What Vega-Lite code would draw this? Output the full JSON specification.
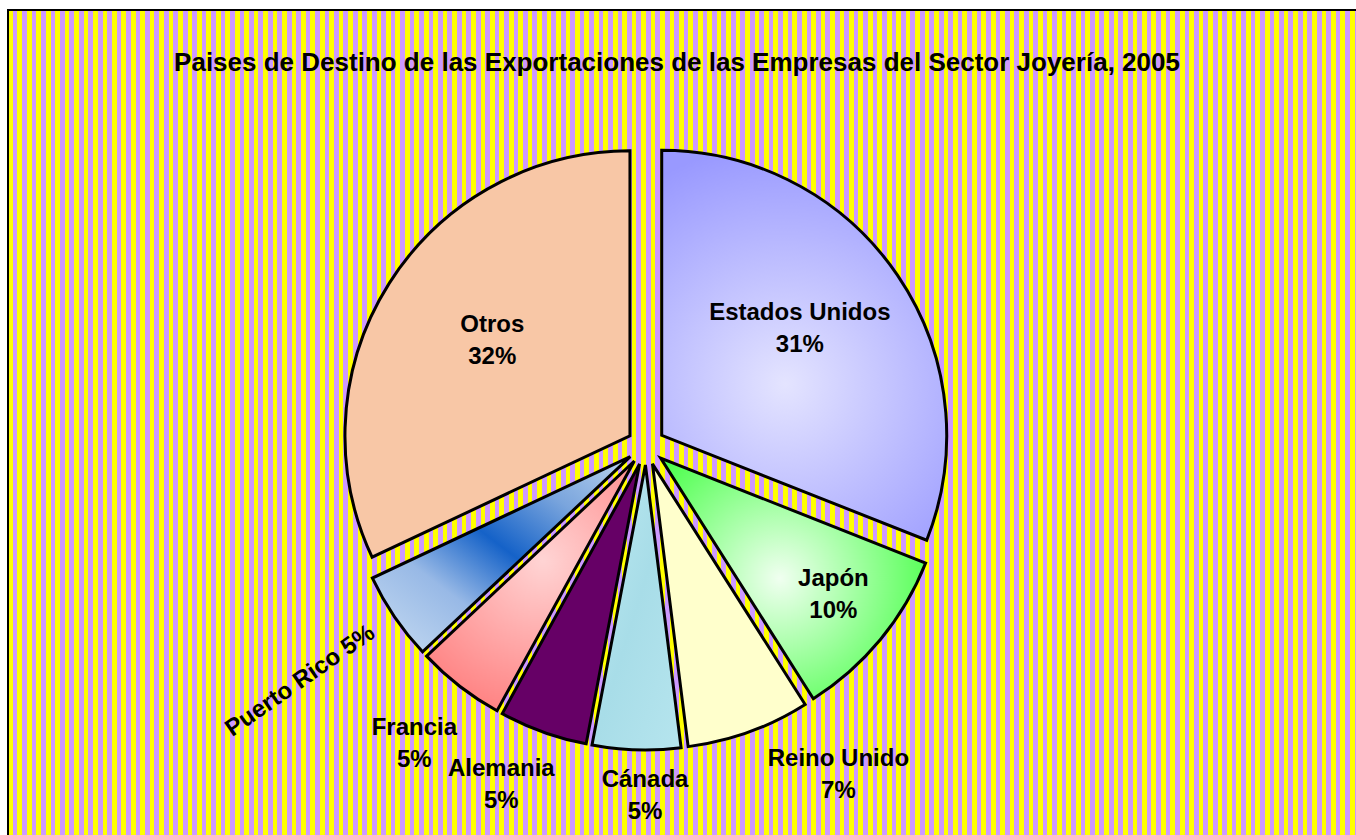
{
"$schema": "https://vega.github.io/schema/vega-lite/v6.json",
"width": 1350,
"height": 827,
"autosize": {"type": "none"},
"padding": {"left": 8, "top": 10, "right": 0, "bottom": 0},
"background": "white",
"title": {"text": "Paises de Destino de las Exportaciones de las Empresas del Sector Joyería, 2005", "font": "Liberation Sans", "fontSize": 26, "fontWeight": "bold", "color": "black", "anchor": "middle", "frame": "group", "offset": -87, "baseline": "alphabetic", "dx": -6},
"view": {"stroke": "black", "strokeWidth": 2, "fill": {"gradient": "linear", "x1": 0, "y1": 0, "x2": 1, "y2": 0, "stops": [
{"offset":0,"color":"#ff0"},
{"offset":0.0035,"color":"#ff0"},{"offset":0.0035,"color":"#c9f"},
{"offset":0.007,"color":"#c9f"},{"offset":0.007,"color":"#ff0"},
{"offset":0.0105,"color":"#ff0"},{"offset":0.0105,"color":"#c9f"},
{"offset":0.014,"color":"#c9f"},{"offset":0.014,"color":"#ff0"},
{"offset":0.0175,"color":"#ff0"},{"offset":0.0175,"color":"#c9f"},
{"offset":0.021,"color":"#c9f"},{"offset":0.021,"color":"#ff0"},
{"offset":0.0245,"color":"#ff0"},{"offset":0.0245,"color":"#c9f"},
{"offset":0.028,"color":"#c9f"},{"offset":0.028,"color":"#ff0"},
{"offset":0.0315,"color":"#ff0"},{"offset":0.0315,"color":"#c9f"},
{"offset":0.035,"color":"#c9f"},{"offset":0.035,"color":"#ff0"},
{"offset":0.0385,"color":"#ff0"},{"offset":0.0385,"color":"#c9f"},
{"offset":0.042,"color":"#c9f"},{"offset":0.042,"color":"#ff0"},
{"offset":0.0455,"color":"#ff0"},{"offset":0.0455,"color":"#c9f"},
{"offset":0.049,"color":"#c9f"},{"offset":0.049,"color":"#ff0"},
{"offset":0.0525,"color":"#ff0"},{"offset":0.0525,"color":"#c9f"},
{"offset":0.056,"color":"#c9f"},{"offset":0.056,"color":"#ff0"},
{"offset":0.0595,"color":"#ff0"},{"offset":0.0595,"color":"#c9f"},
{"offset":0.063,"color":"#c9f"},{"offset":0.063,"color":"#ff0"},
{"offset":0.0665,"color":"#ff0"},{"offset":0.0665,"color":"#c9f"},
{"offset":0.07,"color":"#c9f"},{"offset":0.07,"color":"#ff0"},
{"offset":0.0735,"color":"#ff0"},{"offset":0.0735,"color":"#c9f"},
{"offset":0.077,"color":"#c9f"},{"offset":0.077,"color":"#ff0"},
{"offset":0.0805,"color":"#ff0"},{"offset":0.0805,"color":"#c9f"},
{"offset":0.084,"color":"#c9f"},{"offset":0.084,"color":"#ff0"},
{"offset":0.0875,"color":"#ff0"},{"offset":0.0875,"color":"#c9f"},
{"offset":0.091,"color":"#c9f"},{"offset":0.091,"color":"#ff0"},
{"offset":0.0945,"color":"#ff0"},{"offset":0.0945,"color":"#c9f"},
{"offset":0.098,"color":"#c9f"},{"offset":0.098,"color":"#ff0"},
{"offset":0.1015,"color":"#ff0"},{"offset":0.1015,"color":"#c9f"},
{"offset":0.105,"color":"#c9f"},{"offset":0.105,"color":"#ff0"},
{"offset":0.1085,"color":"#ff0"},{"offset":0.1085,"color":"#c9f"},
{"offset":0.112,"color":"#c9f"},{"offset":0.112,"color":"#ff0"},
{"offset":0.1155,"color":"#ff0"},{"offset":0.1155,"color":"#c9f"},
{"offset":0.119,"color":"#c9f"},{"offset":0.119,"color":"#ff0"},
{"offset":0.1225,"color":"#ff0"},{"offset":0.1225,"color":"#c9f"},
{"offset":0.126,"color":"#c9f"},{"offset":0.126,"color":"#ff0"},
{"offset":0.1295,"color":"#ff0"},{"offset":0.1295,"color":"#c9f"},
{"offset":0.133,"color":"#c9f"},{"offset":0.133,"color":"#ff0"},
{"offset":0.1365,"color":"#ff0"},{"offset":0.1365,"color":"#c9f"},
{"offset":0.14,"color":"#c9f"},{"offset":0.14,"color":"#ff0"},
{"offset":0.1435,"color":"#ff0"},{"offset":0.1435,"color":"#c9f"},
{"offset":0.147,"color":"#c9f"},{"offset":0.147,"color":"#ff0"},
{"offset":0.1505,"color":"#ff0"},{"offset":0.1505,"color":"#c9f"},
{"offset":0.154,"color":"#c9f"},{"offset":0.154,"color":"#ff0"},
{"offset":0.1575,"color":"#ff0"},{"offset":0.1575,"color":"#c9f"},
{"offset":0.161,"color":"#c9f"},{"offset":0.161,"color":"#ff0"},
{"offset":0.1645,"color":"#ff0"},{"offset":0.1645,"color":"#c9f"},
{"offset":0.168,"color":"#c9f"},{"offset":0.168,"color":"#ff0"},
{"offset":0.1715,"color":"#ff0"},{"offset":0.1715,"color":"#c9f"},
{"offset":0.175,"color":"#c9f"},{"offset":0.175,"color":"#ff0"},
{"offset":0.1785,"color":"#ff0"},{"offset":0.1785,"color":"#c9f"},
{"offset":0.182,"color":"#c9f"},{"offset":0.182,"color":"#ff0"},
{"offset":0.1855,"color":"#ff0"},{"offset":0.1855,"color":"#c9f"},
{"offset":0.189,"color":"#c9f"},{"offset":0.189,"color":"#ff0"},
{"offset":0.1925,"color":"#ff0"},{"offset":0.1925,"color":"#c9f"},
{"offset":0.196,"color":"#c9f"},{"offset":0.196,"color":"#ff0"},
{"offset":0.1995,"color":"#ff0"},{"offset":0.1995,"color":"#c9f"},
{"offset":0.203,"color":"#c9f"},{"offset":0.203,"color":"#ff0"},
{"offset":0.2065,"color":"#ff0"},{"offset":0.2065,"color":"#c9f"},
{"offset":0.21,"color":"#c9f"},{"offset":0.21,"color":"#ff0"},
{"offset":0.2135,"color":"#ff0"},{"offset":0.2135,"color":"#c9f"},
{"offset":0.217,"color":"#c9f"},{"offset":0.217,"color":"#ff0"},
{"offset":0.2205,"color":"#ff0"},{"offset":0.2205,"color":"#c9f"},
{"offset":0.224,"color":"#c9f"},{"offset":0.224,"color":"#ff0"},
{"offset":0.2275,"color":"#ff0"},{"offset":0.2275,"color":"#c9f"},
{"offset":0.231,"color":"#c9f"},{"offset":0.231,"color":"#ff0"},
{"offset":0.2345,"color":"#ff0"},{"offset":0.2345,"color":"#c9f"},
{"offset":0.238,"color":"#c9f"},{"offset":0.238,"color":"#ff0"},
{"offset":0.2415,"color":"#ff0"},{"offset":0.2415,"color":"#c9f"},
{"offset":0.245,"color":"#c9f"},{"offset":0.245,"color":"#ff0"},
{"offset":0.2485,"color":"#ff0"},{"offset":0.2485,"color":"#c9f"},
{"offset":0.252,"color":"#c9f"},{"offset":0.252,"color":"#ff0"},
{"offset":0.2555,"color":"#ff0"},{"offset":0.2555,"color":"#c9f"},
{"offset":0.259,"color":"#c9f"},{"offset":0.259,"color":"#ff0"},
{"offset":0.2625,"color":"#ff0"},{"offset":0.2625,"color":"#c9f"},
{"offset":0.266,"color":"#c9f"},{"offset":0.266,"color":"#ff0"},
{"offset":0.2695,"color":"#ff0"},{"offset":0.2695,"color":"#c9f"},
{"offset":0.273,"color":"#c9f"},{"offset":0.273,"color":"#ff0"},
{"offset":0.2765,"color":"#ff0"},{"offset":0.2765,"color":"#c9f"},
{"offset":0.28,"color":"#c9f"},{"offset":0.28,"color":"#ff0"},
{"offset":0.2835,"color":"#ff0"},{"offset":0.2835,"color":"#c9f"},
{"offset":0.287,"color":"#c9f"},{"offset":0.287,"color":"#ff0"},
{"offset":0.2905,"color":"#ff0"},{"offset":0.2905,"color":"#c9f"},
{"offset":0.294,"color":"#c9f"},{"offset":0.294,"color":"#ff0"},
{"offset":0.2975,"color":"#ff0"},{"offset":0.2975,"color":"#c9f"},
{"offset":0.301,"color":"#c9f"},{"offset":0.301,"color":"#ff0"},
{"offset":0.3045,"color":"#ff0"},{"offset":0.3045,"color":"#c9f"},
{"offset":0.308,"color":"#c9f"},{"offset":0.308,"color":"#ff0"},
{"offset":0.3115,"color":"#ff0"},{"offset":0.3115,"color":"#c9f"},
{"offset":0.315,"color":"#c9f"},{"offset":0.315,"color":"#ff0"},
{"offset":0.3185,"color":"#ff0"},{"offset":0.3185,"color":"#c9f"},
{"offset":0.322,"color":"#c9f"},{"offset":0.322,"color":"#ff0"},
{"offset":0.3255,"color":"#ff0"},{"offset":0.3255,"color":"#c9f"},
{"offset":0.329,"color":"#c9f"},{"offset":0.329,"color":"#ff0"},
{"offset":0.3325,"color":"#ff0"},{"offset":0.3325,"color":"#c9f"},
{"offset":0.336,"color":"#c9f"},{"offset":0.336,"color":"#ff0"},
{"offset":0.3395,"color":"#ff0"},{"offset":0.3395,"color":"#c9f"},
{"offset":0.343,"color":"#c9f"},{"offset":0.343,"color":"#ff0"},
{"offset":0.3465,"color":"#ff0"},{"offset":0.3465,"color":"#c9f"},
{"offset":0.35,"color":"#c9f"},{"offset":0.35,"color":"#ff0"},
{"offset":0.3535,"color":"#ff0"},{"offset":0.3535,"color":"#c9f"},
{"offset":0.357,"color":"#c9f"},{"offset":0.357,"color":"#ff0"},
{"offset":0.3605,"color":"#ff0"},{"offset":0.3605,"color":"#c9f"},
{"offset":0.364,"color":"#c9f"},{"offset":0.364,"color":"#ff0"},
{"offset":0.3675,"color":"#ff0"},{"offset":0.3675,"color":"#c9f"},
{"offset":0.371,"color":"#c9f"},{"offset":0.371,"color":"#ff0"},
{"offset":0.3745,"color":"#ff0"},{"offset":0.3745,"color":"#c9f"},
{"offset":0.378,"color":"#c9f"},{"offset":0.378,"color":"#ff0"},
{"offset":0.3815,"color":"#ff0"},{"offset":0.3815,"color":"#c9f"},
{"offset":0.385,"color":"#c9f"},{"offset":0.385,"color":"#ff0"},
{"offset":0.3885,"color":"#ff0"},{"offset":0.3885,"color":"#c9f"},
{"offset":0.392,"color":"#c9f"},{"offset":0.392,"color":"#ff0"},
{"offset":0.3955,"color":"#ff0"},{"offset":0.3955,"color":"#c9f"},
{"offset":0.399,"color":"#c9f"},{"offset":0.399,"color":"#ff0"},
{"offset":0.4025,"color":"#ff0"},{"offset":0.4025,"color":"#c9f"},
{"offset":0.406,"color":"#c9f"},{"offset":0.406,"color":"#ff0"},
{"offset":0.4095,"color":"#ff0"},{"offset":0.4095,"color":"#c9f"},
{"offset":0.413,"color":"#c9f"},{"offset":0.413,"color":"#ff0"},
{"offset":0.4165,"color":"#ff0"},{"offset":0.4165,"color":"#c9f"},
{"offset":0.42,"color":"#c9f"},{"offset":0.42,"color":"#ff0"},
{"offset":0.4235,"color":"#ff0"},{"offset":0.4235,"color":"#c9f"},
{"offset":0.427,"color":"#c9f"},{"offset":0.427,"color":"#ff0"},
{"offset":0.4305,"color":"#ff0"},{"offset":0.4305,"color":"#c9f"},
{"offset":0.434,"color":"#c9f"},{"offset":0.434,"color":"#ff0"},
{"offset":0.4375,"color":"#ff0"},{"offset":0.4375,"color":"#c9f"},
{"offset":0.441,"color":"#c9f"},{"offset":0.441,"color":"#ff0"},
{"offset":0.4445,"color":"#ff0"},{"offset":0.4445,"color":"#c9f"},
{"offset":0.448,"color":"#c9f"},{"offset":0.448,"color":"#ff0"},
{"offset":0.4515,"color":"#ff0"},{"offset":0.4515,"color":"#c9f"},
{"offset":0.455,"color":"#c9f"},{"offset":0.455,"color":"#ff0"},
{"offset":0.4585,"color":"#ff0"},{"offset":0.4585,"color":"#c9f"},
{"offset":0.462,"color":"#c9f"},{"offset":0.462,"color":"#ff0"},
{"offset":0.4655,"color":"#ff0"},{"offset":0.4655,"color":"#c9f"},
{"offset":0.469,"color":"#c9f"},{"offset":0.469,"color":"#ff0"},
{"offset":0.4725,"color":"#ff0"},{"offset":0.4725,"color":"#c9f"},
{"offset":0.476,"color":"#c9f"},{"offset":0.476,"color":"#ff0"},
{"offset":0.4795,"color":"#ff0"},{"offset":0.4795,"color":"#c9f"},
{"offset":0.483,"color":"#c9f"},{"offset":0.483,"color":"#ff0"},
{"offset":0.4865,"color":"#ff0"},{"offset":0.4865,"color":"#c9f"},
{"offset":0.49,"color":"#c9f"},{"offset":0.49,"color":"#ff0"},
{"offset":0.4935,"color":"#ff0"},{"offset":0.4935,"color":"#c9f"},
{"offset":0.497,"color":"#c9f"},{"offset":0.497,"color":"#ff0"},
{"offset":0.5005,"color":"#ff0"},{"offset":0.5005,"color":"#c9f"},
{"offset":0.504,"color":"#c9f"},{"offset":0.504,"color":"#ff0"},
{"offset":0.5075,"color":"#ff0"},{"offset":0.5075,"color":"#c9f"},
{"offset":0.511,"color":"#c9f"},{"offset":0.511,"color":"#ff0"},
{"offset":0.5145,"color":"#ff0"},{"offset":0.5145,"color":"#c9f"},
{"offset":0.518,"color":"#c9f"},{"offset":0.518,"color":"#ff0"},
{"offset":0.5215,"color":"#ff0"},{"offset":0.5215,"color":"#c9f"},
{"offset":0.525,"color":"#c9f"},{"offset":0.525,"color":"#ff0"},
{"offset":0.5285,"color":"#ff0"},{"offset":0.5285,"color":"#c9f"},
{"offset":0.532,"color":"#c9f"},{"offset":0.532,"color":"#ff0"},
{"offset":0.5355,"color":"#ff0"},{"offset":0.5355,"color":"#c9f"},
{"offset":0.539,"color":"#c9f"},{"offset":0.539,"color":"#ff0"},
{"offset":0.5425,"color":"#ff0"},{"offset":0.5425,"color":"#c9f"},
{"offset":0.546,"color":"#c9f"},{"offset":0.546,"color":"#ff0"},
{"offset":0.5495,"color":"#ff0"},{"offset":0.5495,"color":"#c9f"},
{"offset":0.553,"color":"#c9f"},{"offset":0.553,"color":"#ff0"},
{"offset":0.5565,"color":"#ff0"},{"offset":0.5565,"color":"#c9f"},
{"offset":0.56,"color":"#c9f"},{"offset":0.56,"color":"#ff0"},
{"offset":0.5635,"color":"#ff0"},{"offset":0.5635,"color":"#c9f"},
{"offset":0.567,"color":"#c9f"},{"offset":0.567,"color":"#ff0"},
{"offset":0.5705,"color":"#ff0"},{"offset":0.5705,"color":"#c9f"},
{"offset":0.574,"color":"#c9f"},{"offset":0.574,"color":"#ff0"},
{"offset":0.5775,"color":"#ff0"},{"offset":0.5775,"color":"#c9f"},
{"offset":0.581,"color":"#c9f"},{"offset":0.581,"color":"#ff0"},
{"offset":0.5845,"color":"#ff0"},{"offset":0.5845,"color":"#c9f"},
{"offset":0.588,"color":"#c9f"},{"offset":0.588,"color":"#ff0"},
{"offset":0.5915,"color":"#ff0"},{"offset":0.5915,"color":"#c9f"},
{"offset":0.595,"color":"#c9f"},{"offset":0.595,"color":"#ff0"},
{"offset":0.5985,"color":"#ff0"},{"offset":0.5985,"color":"#c9f"},
{"offset":0.602,"color":"#c9f"},{"offset":0.602,"color":"#ff0"},
{"offset":0.6055,"color":"#ff0"},{"offset":0.6055,"color":"#c9f"},
{"offset":0.609,"color":"#c9f"},{"offset":0.609,"color":"#ff0"},
{"offset":0.6125,"color":"#ff0"},{"offset":0.6125,"color":"#c9f"},
{"offset":0.616,"color":"#c9f"},{"offset":0.616,"color":"#ff0"},
{"offset":0.6195,"color":"#ff0"},{"offset":0.6195,"color":"#c9f"},
{"offset":0.623,"color":"#c9f"},{"offset":0.623,"color":"#ff0"},
{"offset":0.6265,"color":"#ff0"},{"offset":0.6265,"color":"#c9f"},
{"offset":0.63,"color":"#c9f"},{"offset":0.63,"color":"#ff0"},
{"offset":0.6335,"color":"#ff0"},{"offset":0.6335,"color":"#c9f"},
{"offset":0.637,"color":"#c9f"},{"offset":0.637,"color":"#ff0"},
{"offset":0.6405,"color":"#ff0"},{"offset":0.6405,"color":"#c9f"},
{"offset":0.644,"color":"#c9f"},{"offset":0.644,"color":"#ff0"},
{"offset":0.6475,"color":"#ff0"},{"offset":0.6475,"color":"#c9f"},
{"offset":0.651,"color":"#c9f"},{"offset":0.651,"color":"#ff0"},
{"offset":0.6545,"color":"#ff0"},{"offset":0.6545,"color":"#c9f"},
{"offset":0.658,"color":"#c9f"},{"offset":0.658,"color":"#ff0"},
{"offset":0.6615,"color":"#ff0"},{"offset":0.6615,"color":"#c9f"},
{"offset":0.665,"color":"#c9f"},{"offset":0.665,"color":"#ff0"},
{"offset":0.6685,"color":"#ff0"},{"offset":0.6685,"color":"#c9f"},
{"offset":0.672,"color":"#c9f"},{"offset":0.672,"color":"#ff0"},
{"offset":0.6755,"color":"#ff0"},{"offset":0.6755,"color":"#c9f"},
{"offset":0.679,"color":"#c9f"},{"offset":0.679,"color":"#ff0"},
{"offset":0.6825,"color":"#ff0"},{"offset":0.6825,"color":"#c9f"},
{"offset":0.686,"color":"#c9f"},{"offset":0.686,"color":"#ff0"},
{"offset":0.6895,"color":"#ff0"},{"offset":0.6895,"color":"#c9f"},
{"offset":0.693,"color":"#c9f"},{"offset":0.693,"color":"#ff0"},
{"offset":0.6965,"color":"#ff0"},{"offset":0.6965,"color":"#c9f"},
{"offset":0.7,"color":"#c9f"},{"offset":0.7,"color":"#ff0"},
{"offset":0.7035,"color":"#ff0"},{"offset":0.7035,"color":"#c9f"},
{"offset":0.707,"color":"#c9f"},{"offset":0.707,"color":"#ff0"},
{"offset":0.7105,"color":"#ff0"},{"offset":0.7105,"color":"#c9f"},
{"offset":0.714,"color":"#c9f"},{"offset":0.714,"color":"#ff0"},
{"offset":0.7175,"color":"#ff0"},{"offset":0.7175,"color":"#c9f"},
{"offset":0.721,"color":"#c9f"},{"offset":0.721,"color":"#ff0"},
{"offset":0.7245,"color":"#ff0"},{"offset":0.7245,"color":"#c9f"},
{"offset":0.728,"color":"#c9f"},{"offset":0.728,"color":"#ff0"},
{"offset":0.7315,"color":"#ff0"},{"offset":0.7315,"color":"#c9f"},
{"offset":0.735,"color":"#c9f"},{"offset":0.735,"color":"#ff0"},
{"offset":0.7385,"color":"#ff0"},{"offset":0.7385,"color":"#c9f"},
{"offset":0.742,"color":"#c9f"},{"offset":0.742,"color":"#ff0"},
{"offset":0.7455,"color":"#ff0"},{"offset":0.7455,"color":"#c9f"},
{"offset":0.749,"color":"#c9f"},{"offset":0.749,"color":"#ff0"},
{"offset":0.7525,"color":"#ff0"},{"offset":0.7525,"color":"#c9f"},
{"offset":0.756,"color":"#c9f"},{"offset":0.756,"color":"#ff0"},
{"offset":0.7595,"color":"#ff0"},{"offset":0.7595,"color":"#c9f"},
{"offset":0.763,"color":"#c9f"},{"offset":0.763,"color":"#ff0"},
{"offset":0.7665,"color":"#ff0"},{"offset":0.7665,"color":"#c9f"},
{"offset":0.77,"color":"#c9f"},{"offset":0.77,"color":"#ff0"},
{"offset":0.7735,"color":"#ff0"},{"offset":0.7735,"color":"#c9f"},
{"offset":0.777,"color":"#c9f"},{"offset":0.777,"color":"#ff0"},
{"offset":0.7805,"color":"#ff0"},{"offset":0.7805,"color":"#c9f"},
{"offset":0.784,"color":"#c9f"},{"offset":0.784,"color":"#ff0"},
{"offset":0.7875,"color":"#ff0"},{"offset":0.7875,"color":"#c9f"},
{"offset":0.791,"color":"#c9f"},{"offset":0.791,"color":"#ff0"},
{"offset":0.7945,"color":"#ff0"},{"offset":0.7945,"color":"#c9f"},
{"offset":0.798,"color":"#c9f"},{"offset":0.798,"color":"#ff0"},
{"offset":0.8015,"color":"#ff0"},{"offset":0.8015,"color":"#c9f"},
{"offset":0.805,"color":"#c9f"},{"offset":0.805,"color":"#ff0"},
{"offset":0.8085,"color":"#ff0"},{"offset":0.8085,"color":"#c9f"},
{"offset":0.812,"color":"#c9f"},{"offset":0.812,"color":"#ff0"},
{"offset":0.8155,"color":"#ff0"},{"offset":0.8155,"color":"#c9f"},
{"offset":0.819,"color":"#c9f"},{"offset":0.819,"color":"#ff0"},
{"offset":0.8225,"color":"#ff0"},{"offset":0.8225,"color":"#c9f"},
{"offset":0.826,"color":"#c9f"},{"offset":0.826,"color":"#ff0"},
{"offset":0.8295,"color":"#ff0"},{"offset":0.8295,"color":"#c9f"},
{"offset":0.833,"color":"#c9f"},{"offset":0.833,"color":"#ff0"},
{"offset":0.8365,"color":"#ff0"},{"offset":0.8365,"color":"#c9f"},
{"offset":0.84,"color":"#c9f"},{"offset":0.84,"color":"#ff0"},
{"offset":0.8435,"color":"#ff0"},{"offset":0.8435,"color":"#c9f"},
{"offset":0.847,"color":"#c9f"},{"offset":0.847,"color":"#ff0"},
{"offset":0.8505,"color":"#ff0"},{"offset":0.8505,"color":"#c9f"},
{"offset":0.854,"color":"#c9f"},{"offset":0.854,"color":"#ff0"},
{"offset":0.8575,"color":"#ff0"},{"offset":0.8575,"color":"#c9f"},
{"offset":0.861,"color":"#c9f"},{"offset":0.861,"color":"#ff0"},
{"offset":0.8645,"color":"#ff0"},{"offset":0.8645,"color":"#c9f"},
{"offset":0.868,"color":"#c9f"},{"offset":0.868,"color":"#ff0"},
{"offset":0.8715,"color":"#ff0"},{"offset":0.8715,"color":"#c9f"},
{"offset":0.875,"color":"#c9f"},{"offset":0.875,"color":"#ff0"},
{"offset":0.8785,"color":"#ff0"},{"offset":0.8785,"color":"#c9f"},
{"offset":0.882,"color":"#c9f"},{"offset":0.882,"color":"#ff0"},
{"offset":0.8855,"color":"#ff0"},{"offset":0.8855,"color":"#c9f"},
{"offset":0.889,"color":"#c9f"},{"offset":0.889,"color":"#ff0"},
{"offset":0.8925,"color":"#ff0"},{"offset":0.8925,"color":"#c9f"},
{"offset":0.896,"color":"#c9f"},{"offset":0.896,"color":"#ff0"},
{"offset":0.8995,"color":"#ff0"},{"offset":0.8995,"color":"#c9f"},
{"offset":0.903,"color":"#c9f"},{"offset":0.903,"color":"#ff0"},
{"offset":0.9065,"color":"#ff0"},{"offset":0.9065,"color":"#c9f"},
{"offset":0.91,"color":"#c9f"},{"offset":0.91,"color":"#ff0"},
{"offset":0.9135,"color":"#ff0"},{"offset":0.9135,"color":"#c9f"},
{"offset":0.917,"color":"#c9f"},{"offset":0.917,"color":"#ff0"},
{"offset":0.9205,"color":"#ff0"},{"offset":0.9205,"color":"#c9f"},
{"offset":0.924,"color":"#c9f"},{"offset":0.924,"color":"#ff0"},
{"offset":0.9275,"color":"#ff0"},{"offset":0.9275,"color":"#c9f"},
{"offset":0.931,"color":"#c9f"},{"offset":0.931,"color":"#ff0"},
{"offset":0.9345,"color":"#ff0"},{"offset":0.9345,"color":"#c9f"},
{"offset":0.938,"color":"#c9f"},{"offset":0.938,"color":"#ff0"},
{"offset":0.9415,"color":"#ff0"},{"offset":0.9415,"color":"#c9f"},
{"offset":0.945,"color":"#c9f"},{"offset":0.945,"color":"#ff0"},
{"offset":0.9485,"color":"#ff0"},{"offset":0.9485,"color":"#c9f"},
{"offset":0.952,"color":"#c9f"},{"offset":0.952,"color":"#ff0"},
{"offset":0.9555,"color":"#ff0"},{"offset":0.9555,"color":"#c9f"},
{"offset":0.959,"color":"#c9f"},{"offset":0.959,"color":"#ff0"},
{"offset":0.9625,"color":"#ff0"},{"offset":0.9625,"color":"#c9f"},
{"offset":0.966,"color":"#c9f"},{"offset":0.966,"color":"#ff0"},
{"offset":0.9695,"color":"#ff0"},{"offset":0.9695,"color":"#c9f"},
{"offset":0.973,"color":"#c9f"},{"offset":0.973,"color":"#ff0"},
{"offset":0.9765,"color":"#ff0"},{"offset":0.9765,"color":"#c9f"},
{"offset":0.98,"color":"#c9f"},{"offset":0.98,"color":"#ff0"},
{"offset":0.9835,"color":"#ff0"},{"offset":0.9835,"color":"#c9f"},
{"offset":0.987,"color":"#c9f"},{"offset":0.987,"color":"#ff0"},
{"offset":0.9905,"color":"#ff0"},{"offset":0.9905,"color":"#c9f"},
{"offset":0.994,"color":"#c9f"},{"offset":0.994,"color":"#ff0"},
{"offset":0.9975,"color":"#ff0"},{"offset":0.9975,"color":"#c9f"},
{"offset":1,"color":"#c9f"}
]}},
"data": {"values": [
{"pais": "Estados Unidos", "pct": 31, "orden": 1},
{"pais": "Japón", "pct": 10, "orden": 2},
{"pais": "Reino Unido", "pct": 7, "orden": 3},
{"pais": "Cánada", "pct": 5, "orden": 4},
{"pais": "Alemania", "pct": 5, "orden": 5},
{"pais": "Francia", "pct": 5, "orden": 6},
{"pais": "Puerto Rico", "pct": 5, "orden": 7},
{"pais": "Otros", "pct": 32, "orden": 8}
]},
"transform": [
{"calculate": "datum.pais + (datum.pais == 'Puerto Rico' ? ' ' : '\\n') + datum.pct + '%'", "as": "etiqueta"}
],
"layer": [
{
"mark": {"type": "arc", "radius": 285, "stroke": "black", "strokeWidth": 3,
"xOffset": {"expr": "-37 + 19*sin((scale('theta', datum.pct_start) + scale('theta', datum.pct_end))/2)"},
"yOffset": {"expr": "22.5 - 19*cos((scale('theta', datum.pct_start) + scale('theta', datum.pct_end))/2)"},
"fill": {"expr": "datum.pais=='Estados Unidos'?{gradient:'radial',x1:0.45,y1:0.6,r1:0,x2:0.45,y2:0.6,r2:0.62,stops:[{offset:0,color:'#e4e4ff'},{offset:1,color:'#9999ff'}]}:datum.pais=='Japón'?{gradient:'radial',x1:0.45,y1:0.5,r1:0,x2:0.45,y2:0.5,r2:0.7,stops:[{offset:0,color:'#f0fff0'},{offset:1,color:'#33ff33'}]}:datum.pais=='Reino Unido'?'#ffffcc':datum.pais=='Cánada'?{gradient:'linear',x1:0,y1:0,x2:1,y2:1,stops:[{offset:0,color:'#bdeaf2'},{offset:0.5,color:'#a8dde8'},{offset:1,color:'#b6e5ee'}]}:datum.pais=='Alemania'?'#660066':datum.pais=='Francia'?{gradient:'radial',x1:0.55,y1:0.4,r1:0,x2:0.55,y2:0.4,r2:0.65,stops:[{offset:0,color:'#ffd4d4'},{offset:1,color:'#ff8080'}]}:datum.pais=='Puerto Rico'?{gradient:'linear',x1:0,y1:1,x2:1,y2:0,stops:[{offset:0,color:'#c8ddf2'},{offset:0.3,color:'#98b9e6'},{offset:0.52,color:'#1562c8'},{offset:0.75,color:'#7aa5dd'},{offset:1,color:'#bcd4ef'}]}:'#f8c7a6'"}
},
"encoding": {
"theta": {"field": "pct", "type": "quantitative", "stack": true},
"order": {"field": "orden", "type": "quantitative"}
}
},
{
"mark": {"type": "text", "font": "Liberation Sans", "fontWeight": "bold", "fontSize": 24, "lineBreak": "\n", "lineHeight": 32, "color": "black", "align": "center", "baseline": "middle",
"xOffset": -37, "yOffset": 22.5,
"radius": {"expr": "datum.pais=='Estados Unidos'?192:datum.pais=='Japón'?238:datum.pais=='Otros'?188:datum.pais=='Reino Unido'?379:datum.pais=='Cánada'?349:datum.pais=='Alemania'?368:datum.pais=='Francia'?378:420"},
"angle": {"expr": "datum.pais=='Puerto Rico'?-35:0"},
"dx": {"expr": "datum.pais=='Estados Unidos'?-5:datum.pais=='Otros'?5:datum.pais=='Japón'?4:datum.pais=='Reino Unido'?64:datum.pais=='Cánada'?10:datum.pais=='Alemania'?-20:datum.pais=='Puerto Rico'?2:0"},
"dy": {"expr": "datum.pais=='Estados Unidos'?-25:datum.pais=='Otros'?-20:datum.pais=='Japón'?-19:datum.pais=='Reino Unido'?-44:datum.pais=='Cánada'?-15:datum.pais=='Alemania'?-23:datum.pais=='Francia'?-17:0"}
},
"encoding": {
"theta": {"field": "pct", "type": "quantitative", "stack": true},
"order": {"field": "orden", "type": "quantitative"},
"text": {"field": "etiqueta", "type": "nominal"}
}
}
]
}
